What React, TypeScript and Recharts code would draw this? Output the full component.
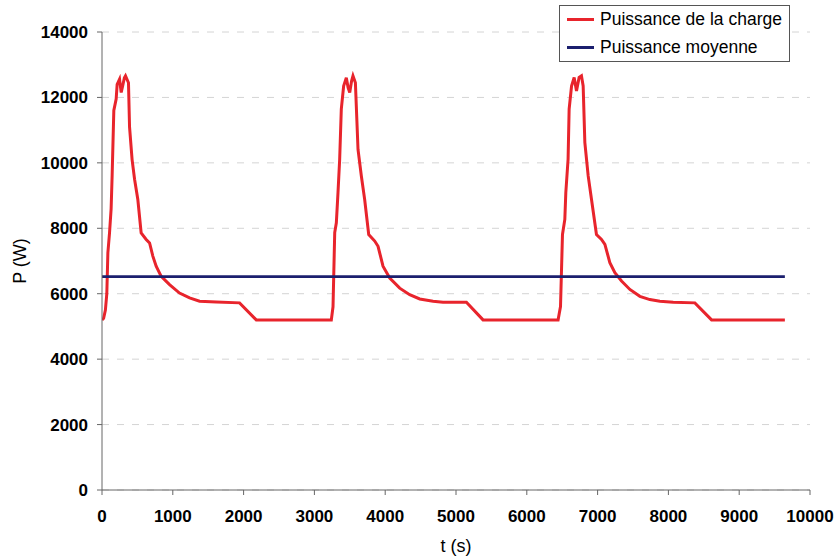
import React from 'react'
import { LineChart, Line, XAxis, YAxis, CartesianGrid, Legend } from 'recharts'

// [t (s), P (W)], one array per load cycle
const cycle1: [number, number][] = [
  [0, 5200], [23, 5250], [48, 5500], [68, 6000], [83, 7250], [106, 7850],
  [129, 8600], [143, 9600], [167, 11600], [200, 11950], [214, 12400],
  [248, 12560], [271, 12150], [292, 12350], [316, 12600], [332, 12660],
  [374, 12450], [389, 11100], [425, 10100], [460, 9500], [506, 8880],
  [553, 7860], [624, 7660], [672, 7550], [718, 7150], [765, 6840],
  [836, 6530], [954, 6280], [1095, 6020], [1237, 5870], [1378, 5770],
  [1614, 5750], [1943, 5720], [2179, 5200],
]

const cycle2: [number, number][] = [
  [3239, 5200], [3263, 5600], [3287, 7870], [3310, 8170], [3333, 9080],
  [3357, 10110], [3380, 11640], [3413, 12350], [3451, 12600], [3476, 12300],
  [3499, 12150], [3525, 12500], [3545, 12660], [3579, 12450], [3616, 10410],
  [3663, 9600], [3710, 8880], [3767, 7810], [3852, 7610], [3899, 7450],
  [3969, 6840], [4064, 6480], [4205, 6170], [4346, 5970], [4488, 5840],
  [4676, 5770], [4817, 5740], [5147, 5740], [5382, 5200],
]

const cycle3: [number, number][] = [
  [6442, 5200], [6476, 5610], [6504, 7810], [6537, 8270], [6551, 9090],
  [6583, 10110], [6598, 11640], [6632, 12350], [6669, 12610], [6702, 12200],
  [6739, 12610], [6772, 12660], [6796, 12350], [6820, 10620], [6867, 9600],
  [6914, 8880], [6984, 7810], [7055, 7660], [7103, 7510], [7173, 6950],
  [7244, 6640], [7338, 6390], [7456, 6130], [7597, 5920], [7738, 5820],
  [7880, 5770], [8068, 5740], [8374, 5720], [8610, 5200], [9645, 5200],
]

const meanPower = 6520
const meanSpan = [0, 9645]

const xTicks = [0, 1000, 2000, 3000, 4000, 5000, 6000, 7000, 8000, 9000, 10000]
const yTicks = [0, 2000, 4000, 6000, 8000, 10000, 12000, 14000]

const chargeData = [...cycle1, ...cycle2, ...cycle3].map(([t, p]) => ({ t, p }))
const meanData = meanSpan.map((t) => ({ t, p: meanPower }))

const FONT = '"Liberation Sans", Arial, sans-serif'
const RED = '#e8242c'
const NAVY = '#1b1f6e'

const tickStyle = { fontSize: 17, fontWeight: 700, fill: '#000', fontFamily: FONT }

function LegendBox() {
  const rows = [
    { label: 'Puissance de la charge', color: RED, top: 13 },
    { label: 'Puissance moyenne', color: NAVY, top: 41 },
  ]
  return (
    <div
      style={{
        position: 'relative',
        width: 231,
        height: 57,
        boxSizing: 'border-box',
        border: '1px solid #555',
        background: '#fff',
        fontFamily: FONT,
        fontSize: 17.5,
        color: '#000',
      }}
    >
      {rows.map((r) => (
        <div key={r.label}>
          <div
            style={{
              position: 'absolute',
              left: 7,
              top: r.top - 1,
              width: 27,
              height: 3,
              background: r.color,
            }}
          />
          <div
            style={{
              position: 'absolute',
              left: 40,
              top: r.top - 11,
              lineHeight: '22px',
              whiteSpace: 'nowrap',
            }}
          >
            {r.label}
          </div>
        </div>
      ))}
    </div>
  )
}

export default function App() {
  return (
    <div style={{ position: 'absolute', left: 0, top: 0, background: '#fff' }}>
      <LineChart
        width={838}
        height={558}
        margin={{ top: 32, right: 28, left: 0, bottom: 0 }}
      >
        <CartesianGrid
          vertical={false}
          stroke="#d4d4d4"
          strokeDasharray="7 8"
        />
        <XAxis
          type="number"
          dataKey="t"
          domain={[0, 10000]}
          ticks={xTicks}
          height={68}
          tick={tickStyle}
          tickSize={5}
          tickMargin={15}
          stroke="#666"
          allowDataOverflow
          label={{
            content: ({ viewBox }: any) => (
              <text
                x={viewBox.x + viewBox.width / 2}
                y={552}
                textAnchor="middle"
                fontSize={18}
                fontFamily={FONT}
                fill="#000"
              >
                t (s)
              </text>
            ),
          }}
        />
        <YAxis
          type="number"
          domain={[0, 14000]}
          ticks={yTicks}
          width={102}
          tick={tickStyle}
          tickSize={5}
          tickMargin={9}
          stroke="#666"
          label={{
            content: ({ viewBox }: any) => {
              const cx = 20
              const cy = viewBox.y + viewBox.height / 2
              return (
                <text
                  x={cx}
                  y={cy}
                  textAnchor="middle"
                  dominantBaseline="central"
                  transform={`rotate(-90 ${cx} ${cy})`}
                  fontSize={18}
                  fontFamily={FONT}
                  fill="#000"
                >
                  P (W)
                </text>
              )
            },
          }}
        />
        <Legend
          verticalAlign="middle"
          align="center"
          layout="horizontal"
          wrapperStyle={{ left: 559, top: 5, width: 231, height: 57 }}
          content={() => <LegendBox />}
        />
        <Line
          data={chargeData}
          dataKey="p"
          name="Puissance de la charge"
          stroke={RED}
          strokeWidth={3}
          dot={false}
          type="linear"
          isAnimationActive={false}
        />
        <Line
          data={meanData}
          dataKey="p"
          name="Puissance moyenne"
          stroke={NAVY}
          strokeWidth={2.8}
          dot={false}
          type="linear"
          isAnimationActive={false}
        />
      </LineChart>
    </div>
  )
}
